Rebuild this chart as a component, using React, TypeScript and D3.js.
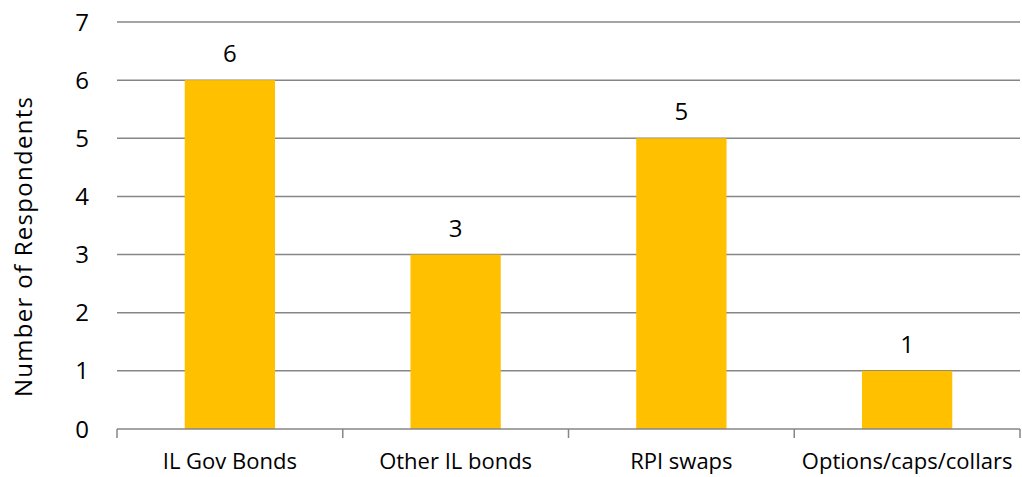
import React from "react";
import * as d3 from "d3";

const categories = ["IL Gov Bonds", "Other IL bonds", "RPI swaps", "Options/caps/collars"];
const values = [6, 3, 5, 1];
const yTicks = [0, 1, 2, 3, 4, 5, 6, 7];
const yTitle = "Number of Respondents";

export default function App() {
  const W = 1022, H = 477;
  const left = 117, right = 1020, top = 22, bottom = 429;
  const x = d3.scaleBand<string>().domain(categories).range([left, right]).paddingInner(0.6).paddingOuter(0.3);
  const xb = d3.scaleBand<string>().domain(categories).range([left, right]);
  const y = d3.scaleLinear().domain([0, 7]).range([bottom, top]);
  const font = "'Open Sans', sans-serif";
  const grid = "#868686";
  return (
    <svg width={W} height={H} style={{ position: "absolute", left: 0, top: 0 }} fontFamily={font}>
      <rect width={W} height={H} fill="#fff" />
      {yTicks.map((t) => (
        <g key={t}>
          {t > 0 && <line x1={left} x2={right} y1={y(t)} y2={y(t)} stroke={grid} strokeWidth={1.5} />}
          <text x={89} y={y(t)} dy="0.36em" textAnchor="end" fontSize={24} fill="#000">{t}</text>
        </g>
      ))}
      {categories.map((c, i) => (
        <g key={c}>
          <rect x={x(c)} y={y(values[i])} width={x.bandwidth()} height={bottom - y(values[i])} fill="#FFC000" />
          <text x={x(c)! + x.bandwidth() / 2} y={y(values[i]) - 18} textAnchor="middle" fontSize={24} fill="#000">{values[i]}</text>
          <text x={xb(c)! + xb.bandwidth() / 2} y={469} textAnchor="middle" fontSize={22} fill="#000">{c}</text>
        </g>
      ))}
      <line x1={left} x2={right} y1={bottom} y2={bottom} stroke={grid} strokeWidth={1.5} />
      {[...categories.map((c) => xb(c)!), right].map((p, i) => (
        <line key={i} x1={p} x2={p} y1={bottom} y2={bottom + 9} stroke={grid} strokeWidth={1.5} />
      ))}
      <text transform={`translate(32, 247) rotate(-90)`} textAnchor="middle" fontSize={24} textLength={300} lengthAdjust="spacing" fill="#000">{yTitle}</text>
    </svg>
  );
}
